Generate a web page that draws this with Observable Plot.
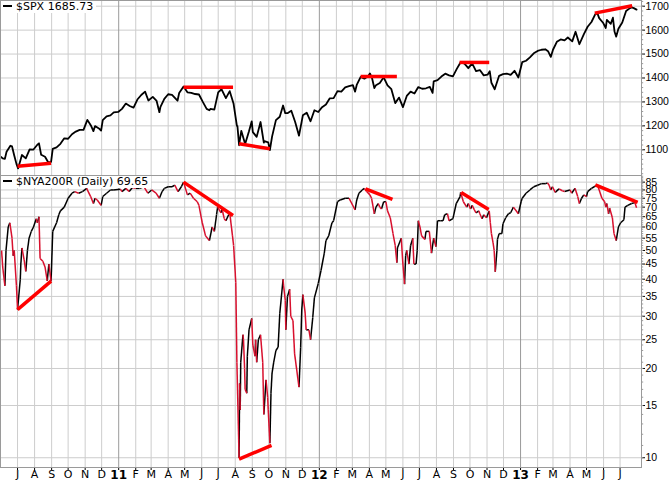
<!DOCTYPE html>
<html><head><meta charset="utf-8">
<script src="https://cdn.jsdelivr.net/npm/d3@7"></script>
<script src="https://cdn.jsdelivr.net/npm/@observablehq/plot@0.6"></script>
<style>
body{margin:0;background:#fff;}
#chart{position:relative;width:671px;height:481px;font-family:"DejaVu Sans",Verdana,sans-serif;overflow:hidden;}
#chart svg{display:block;}
.lbl{position:absolute;left:1px;background:#fff;font-size:11px;line-height:12px;padding:0 3px 0 2px;white-space:pre;color:#000;}
.lbl i{display:inline-block;width:9px;height:2px;background:#000;vertical-align:middle;margin-right:4px;position:relative;top:-1px;}
</style></head>
<body>
<div id="chart"></div>
<script>
// ---------- data ----------
const spxDates = ["2010-06-01","2010-06-04","2010-06-08","2010-06-11","2010-06-18","2010-06-21","2010-06-25","2010-06-29","2010-07-02","2010-07-09","2010-07-16","2010-07-23","2010-07-30","2010-08-06","2010-08-09","2010-08-13","2010-08-20","2010-08-26","2010-08-31","2010-09-03","2010-09-10","2010-09-17","2010-09-24","2010-10-01","2010-10-08","2010-10-15","2010-10-22","2010-10-29","2010-11-05","2010-11-12","2010-11-16","2010-11-19","2010-11-26","2010-11-30","2010-12-03","2010-12-10","2010-12-17","2010-12-23","2010-12-31",
"2011-01-07","2011-01-14","2011-01-21","2011-01-28","2011-02-04","2011-02-11","2011-02-18","2011-02-24","2011-03-04","2011-03-11","2011-03-16","2011-03-18","2011-03-25","2011-04-01","2011-04-08","2011-04-18","2011-04-21","2011-04-29","2011-05-06","2011-05-13","2011-05-20","2011-05-27","2011-06-03","2011-06-10","2011-06-15","2011-06-17","2011-06-24","2011-07-01","2011-07-07","2011-07-15","2011-07-22","2011-07-29","2011-08-04","2011-08-05","2011-08-08","2011-08-12","2011-08-19","2011-08-26","2011-08-31","2011-09-02","2011-09-09","2011-09-16","2011-09-22","2011-09-23","2011-09-30","2011-10-03","2011-10-07","2011-10-14","2011-10-21","2011-10-27","2011-10-31","2011-11-04","2011-11-11","2011-11-18","2011-11-25","2011-12-02","2011-12-09","2011-12-16","2011-12-23","2011-12-30",
"2012-01-06","2012-01-13","2012-01-20","2012-01-27","2012-02-03","2012-02-10","2012-02-17","2012-02-24","2012-03-02","2012-03-06","2012-03-09","2012-03-16","2012-03-23","2012-03-30","2012-04-02","2012-04-06","2012-04-10","2012-04-13","2012-04-20","2012-04-27","2012-05-04","2012-05-11","2012-05-18","2012-05-25","2012-06-01","2012-06-08","2012-06-15","2012-06-22","2012-06-29","2012-07-06","2012-07-13","2012-07-20","2012-07-25","2012-07-27","2012-08-03","2012-08-10","2012-08-17","2012-08-24","2012-08-31","2012-09-07","2012-09-14","2012-09-21","2012-09-28","2012-10-05","2012-10-12","2012-10-19","2012-10-26","2012-11-02","2012-11-06","2012-11-09","2012-11-15","2012-11-16","2012-11-23","2012-11-30","2012-12-07","2012-12-14","2012-12-21","2012-12-28",
"2013-01-04","2013-01-11","2013-01-18","2013-01-25","2013-02-01","2013-02-08","2013-02-15","2013-02-20","2013-02-25","2013-03-01","2013-03-08","2013-03-15","2013-03-22","2013-03-28","2013-04-05","2013-04-11","2013-04-18","2013-04-26","2013-05-03","2013-05-10","2013-05-17","2013-05-21","2013-05-24","2013-05-31","2013-06-05","2013-06-07","2013-06-14","2013-06-18","2013-06-21","2013-06-24","2013-06-28","2013-07-05","2013-07-12","2013-07-19","2013-07-22","2013-07-26","2013-07-31"];
const spxValues = [1070,1064,1062,1092,1117,1114,1076,1041,1022,1078,1064,1102,1101,1121,1127,1079,1071,1047,1049,1104,1110,1125,1148,1146,1165,1176,1183,1183,1225,1199,1178,1199,1189,1180,1224,1240,1244,1256,1258,
1271,1293,1283,1276,1310,1329,1343,1306,1321,1304,1257,1279,1313,1332,1329,1305,1337,1364,1340,1338,1333,1331,1300,1271,1265,1271,1268,1340,1353,1316,1345,1292,1200,1199,1119,1179,1124,1177,1219,1174,1154,1216,1130,1136,1131,1099,1155,1224,1238,1285,1253,1253,1263,1216,1159,1244,1255,1219,1265,1258,
1278,1289,1315,1316,1345,1343,1361,1366,1370,1343,1371,1404,1397,1408,1419,1398,1358,1370,1379,1403,1369,1353,1295,1318,1278,1325,1343,1335,1362,1355,1357,1363,1338,1386,1391,1406,1418,1411,1407,1438,1466,1460,1441,1461,1429,1433,1411,1414,1428,1380,1353,1360,1409,1416,1418,1413,1430,1402,
1466,1472,1486,1503,1513,1518,1520,1512,1488,1518,1551,1561,1557,1569,1553,1593,1541,1582,1614,1634,1667,1669,1650,1631,1609,1643,1626,1652,1593,1573,1606,1632,1680,1692,1695,1692,1685.73];

const nyaDates = ["2010-06-02","2010-06-04","2010-06-08","2010-06-10","2010-06-14","2010-06-17","2010-06-21","2010-06-23","2010-06-25","2010-06-29","2010-07-01","2010-07-06","2010-07-07","2010-07-09","2010-07-13","2010-07-16","2010-07-19","2010-07-22","2010-07-26","2010-07-30","2010-08-04","2010-08-06","2010-08-09","2010-08-11","2010-08-16","2010-08-20","2010-08-24","2010-08-27","2010-08-31","2010-09-02","2010-09-03","2010-09-10","2010-09-14","2010-09-17","2010-09-24","2010-10-01","2010-10-08","2010-10-13","2010-10-20","2010-10-27","2010-11-04","2010-11-05","2010-11-11","2010-11-16","2010-11-19","2010-11-23","2010-11-30","2010-12-03","2010-12-10","2010-12-17","2010-12-22",
"2011-01-04","2011-01-07","2011-01-14","2011-01-20","2011-01-26","2011-02-01","2011-02-08","2011-02-16","2011-02-23","2011-03-02","2011-03-10","2011-03-16","2011-03-21","2011-03-25","2011-04-01","2011-04-08","2011-04-13","2011-04-19","2011-04-25","2011-04-29","2011-05-06","2011-05-11","2011-05-17","2011-05-24","2011-05-27","2011-06-02","2011-06-08","2011-06-15","2011-06-20","2011-06-24","2011-06-28","2011-06-30","2011-07-06","2011-07-08","2011-07-12","2011-07-15","2011-07-20","2011-07-22","2011-07-27","2011-07-29","2011-08-02","2011-08-04","2011-08-08","2011-08-09","2011-08-10","2011-08-11","2011-08-15","2011-08-16","2011-08-18","2011-08-19","2011-08-22","2011-08-23","2011-08-26","2011-08-31","2011-09-02","2011-09-06","2011-09-07","2011-09-09","2011-09-12","2011-09-16","2011-09-20","2011-09-22","2011-09-26","2011-09-29","2011-09-30","2011-10-03","2011-10-05","2011-10-07","2011-10-10","2011-10-14","2011-10-18","2011-10-21","2011-10-27","2011-10-28","2011-10-31","2011-11-01","2011-11-04","2011-11-08","2011-11-10","2011-11-14","2011-11-17","2011-11-25","2011-11-28","2011-11-30","2011-12-02","2011-12-06","2011-12-08","2011-12-13","2011-12-16","2011-12-20","2011-12-23","2011-12-30",
"2012-01-04","2012-01-10","2012-01-13","2012-01-18","2012-01-24","2012-01-27","2012-02-03","2012-02-08","2012-02-17","2012-02-24","2012-03-06","2012-03-09","2012-03-13","2012-03-19","2012-03-23","2012-03-27","2012-04-02","2012-04-05","2012-04-10","2012-04-13","2012-04-17","2012-04-20","2012-04-23","2012-04-27","2012-05-01","2012-05-04","2012-05-09","2012-05-14","2012-05-18","2012-05-21","2012-05-22","2012-05-29","2012-06-01","2012-06-04","2012-06-06","2012-06-08","2012-06-12","2012-06-15","2012-06-19","2012-06-21","2012-06-25","2012-06-27","2012-06-29","2012-07-02","2012-07-05","2012-07-11","2012-07-13","2012-07-19","2012-07-23","2012-07-27","2012-07-31","2012-08-03","2012-08-08","2012-08-13","2012-08-16","2012-08-21","2012-08-24","2012-08-31","2012-09-06","2012-09-13","2012-09-14","2012-09-19","2012-09-25","2012-09-28","2012-10-02","2012-10-05","2012-10-09","2012-10-12","2012-10-17","2012-10-19","2012-10-23","2012-10-26","2012-10-31","2012-11-05","2012-11-07","2012-11-09","2012-11-12","2012-11-14","2012-11-16","2012-11-19","2012-11-20","2012-11-23","2012-11-28","2012-11-30","2012-12-05","2012-12-10","2012-12-14","2012-12-19","2012-12-28",
"2013-01-02","2013-01-04","2013-01-11","2013-01-18","2013-01-25","2013-02-01","2013-02-08","2013-02-15","2013-02-19","2013-02-22","2013-02-25","2013-02-28","2013-03-05","2013-03-12","2013-03-18","2013-03-22","2013-04-01","2013-04-04","2013-04-10","2013-04-15","2013-04-18","2013-04-22","2013-04-26","2013-05-01","2013-05-03","2013-05-10","2013-05-15","2013-05-21","2013-05-24","2013-05-29","2013-06-03","2013-06-05","2013-06-07","2013-06-10","2013-06-12","2013-06-17","2013-06-20","2013-06-24","2013-06-28","2013-07-02","2013-07-08","2013-07-10","2013-07-15","2013-07-22","2013-07-28","2013-07-31"];
const nyaValues = [50,44,38,50,60,62,55,48,50,38,31.6,40,45,51,46.5,42.5,50,55,58,60,64,62,65,47,46,44,39.5,45,39.4,51,58,62,66,68,70,75,78,79,78,79,81,80,76,72,75,74,71,76,78,80,80,
80.5,79,81,79,81.5,81,81,82,78,80,78,75,79,81,82,82,83,79,82,85,77,78,75,73,71,62,56,54,60,58,66,70,67,69,64,63,66,67,56,52,39,21,10,17.8,14.5,21,26,25,20,17,16.5,22,27,29.5,24,22,25,21,25,26,21,14,18.3,16,14.5,11.2,16.5,19.3,21,23,23.6,30.6,40,38,34,27,35,37,30,29,22.4,17.3,23.6,31.5,35.5,31,27,27,25,29.7,34.6,38.7,
42.8,49,54,56,62,63,73,74,75,75,68.5,74,78,80,81,79,77,75,66.5,70,72,70,69,73,73,68,64.5,57,52,45.5,51,55,45,38.5,48,50,45,52,55,45,45,50,63,60,56,54.5,58,58,49,55,51.5,63,63,63,66,66.5,63,64,72,76,78.5,73,70,72,69,71,68.5,67,68,66.5,64,66,64.5,68,62,57,53,50,42.4,50,54.5,57,57,61.5,64.5,66.5,67,70,66.5,
73,75,78,80,82,83,84,84,84.5,83,80,82,78.5,80.7,79.5,79,80,78,81,76,72,75,77,76,79,81,82,83.2,80,75,73,70,72,66.5,69.5,64.5,57,54,60,62,63.5,70,71,72,72.5,69.65];

// hand-drawn trendlines (red)
const spxTrendFrom = ["2010-07-01","2011-04-29","2011-08-08","2012-03-16","2012-09-12","2013-05-16"];
const spxTrendFromVal = [1031,1361.5,1125,1406,1465,1671];
const spxTrendTo = ["2010-08-31","2011-07-28","2011-10-03","2012-05-21","2012-11-05","2013-07-23"];
const spxTrendToVal = [1044,1361.5,1104,1406,1465,1702];
const nyaTrendFrom = ["2010-07-01","2011-04-29","2011-08-08","2012-03-25","2012-09-15","2013-05-17"];
const nyaTrendFromVal = [31.6,85,9.9,80.7,78.4,83.2];
const nyaTrendTo = ["2010-08-31","2011-07-28","2011-10-06","2012-05-13","2012-11-04","2013-08-02"];
const nyaTrendToVal = [39.4,65.6,11.0,74.3,68.7,72.6];

// axes
const spxTicks = [1100,1200,1300,1400,1500,1600,1700];
const nyaTicks = [10,15,20,25,30,35,40,45,50,55,60,65,70,75,80,85];
const monthLabels = ["J","A","S","O","N","D","11","F","M","A","M","J","J","A","S","O","N","D","12","F","M","A","M","J","J","A","S","O","N","D","13","F","M","A","M","J","J"];
const seriesNames = ["$SPX", "$NYA200R (Daily)"];

// ---------- build ----------
const parse = s => new Date(s + "T00:00:00Z");
const domainX = [parse("2010-05-31"), parse("2013-08-09")];
const monthDates = d3.utcMonth.range(parse("2010-07-01"), parse("2013-07-02"));
const months = monthDates.map((d, i) => ({date: d, label: monthLabels[i], year: d.getUTCMonth() === 0}));

const spx = spxDates.map((d, i) => ({date: parse(d), value: spxValues[i]}));
const nya = nyaDates.map((d, i) => ({date: parse(d), value: nyaValues[i]}));
const segs = d3.pairs(nya).map(([a, b]) => ({x1: a.date, y1: a.value, x2: b.date, y2: b.value, down: b.value < a.value}));
const spxTrends = spxTrendFrom.map((d, i) => ({x1: parse(d), y1: spxTrendFromVal[i], x2: parse(spxTrendTo[i]), y2: spxTrendToVal[i]}));
const nyaTrends = nyaTrendFrom.map((d, i) => ({x1: parse(d), y1: nyaTrendFromVal[i], x2: parse(nyaTrendTo[i]), y2: nyaTrendToVal[i]}));

const tickEnd = domainX[1];
const tickOut = new Date(+domainX[1] + 4 * 864e5);
const spxMinor = d3.range(1000, 1721, 20);
const nyaMinor = d3.range(10, 90, 1);

const GRID = "#cdcdcd", YEAR = "#9a9a9a", FRAME = "#9a9a9a";
const style = {fontFamily: "Liberation Sans, Arial, sans-serif", fontSize: "10.5px", color: "#000", background: "transparent", overflow: "visible"};
const MONTH_FONT = "DejaVu Sans, Verdana, sans-serif";

const topPlot = Plot.plot({
  width: 671, height: 175, marginTop: 0, marginBottom: 0, marginLeft: 0, marginRight: 30,
  style,
  x: {type: "utc", domain: domainX, axis: null},
  y: {domain: [992.5, 1723.8], axis: "right", ticks: spxTicks, tickSize: 3, tickPadding: 1, tickFormat: d => String(d), label: null},
  marks: [
    Plot.ruleX(months.filter(m => !m.year), {x: "date", stroke: GRID}),
    Plot.ruleY(spxTicks, {stroke: GRID}),
    Plot.ruleX(months.filter(m => m.year), {x: "date", stroke: YEAR}),
    Plot.ruleY(spxMinor, {x1: tickEnd, x2: tickOut, stroke: FRAME}),
    Plot.line(spx, {x: "date", y: "value", stroke: "#000", strokeWidth: 1.8}),
    Plot.link(spxTrends, {x1: "x1", y1: "y1", x2: "x2", y2: "y2", stroke: "#ff0000", strokeWidth: 3.5}),
    Plot.frame({stroke: FRAME})
  ]
});

const botPlot = Plot.plot({
  width: 671, height: 306, marginTop: 0, marginBottom: 14, marginLeft: 0, marginRight: 30,
  style,
  x: {type: "utc", domain: domainX, ticks: monthDates, tickFormat: () => "", tickSize: 3, label: null},
  y: {type: "log", domain: [9.27, 89.5], axis: "right", ticks: nyaTicks, tickSize: 3, tickPadding: 1, tickFormat: d => String(d), label: null},
  marks: [
    Plot.ruleX(months.filter(m => !m.year), {x: "date", stroke: GRID}),
    Plot.ruleY(nyaTicks, {stroke: GRID}),
    Plot.ruleX(months.filter(m => m.year), {x: "date", stroke: YEAR}),
    Plot.ruleY(nyaMinor, {x1: tickEnd, x2: tickOut, stroke: FRAME}),
    Plot.link(segs.filter(s => !s.down), {x1: "x1", y1: "y1", x2: "x2", y2: "y2", stroke: "#000", strokeWidth: 1.5}),
    Plot.link(segs.filter(s => s.down), {x1: "x1", y1: "y1", x2: "x2", y2: "y2", stroke: "#d8102e", strokeWidth: 1.5}),
    Plot.link(nyaTrends, {x1: "x1", y1: "y1", x2: "x2", y2: "y2", stroke: "#ff0000", strokeWidth: 3.5}),
    Plot.frame({stroke: FRAME}),
    Plot.text(months.filter(m => !m.year), {x: "date", text: "label", frameAnchor: "bottom", lineAnchor: "top", dy: 3, fontSize: 11, fontFamily: MONTH_FONT, fill: "#000"}),
    Plot.text(months.filter(m => m.year), {x: "date", text: "label", frameAnchor: "bottom", lineAnchor: "top", dy: 3, fontSize: 12, fontFamily: MONTH_FONT, fontWeight: "bold", fill: "#000"})
  ]
});

const chart = document.getElementById("chart");
chart.appendChild(topPlot);
chart.appendChild(botPlot);

function legend(name, value, top) {
  const div = document.createElement("div");
  div.className = "lbl";
  div.style.top = top + "px";
  div.innerHTML = "<i></i>";
  div.appendChild(document.createTextNode(name + " " + value));
  chart.appendChild(div);
}
legend(seriesNames[0], spxValues[spxValues.length - 1].toFixed(2), 1);
legend(seriesNames[1], nyaValues[nyaValues.length - 1].toFixed(2), 176);
</script>
</body></html>
